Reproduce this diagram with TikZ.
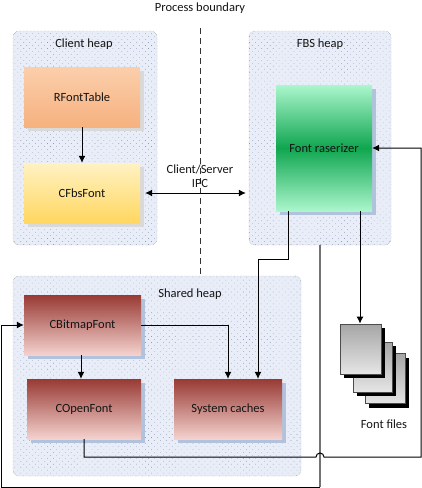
\documentclass[tikz,border=0pt]{standalone}
\usepackage{fontspec}
\setmainfont{Carlito}
\usetikzlibrary{arrows.meta,patterns.meta,shadows}
\definecolor{heapfill}{HTML}{E8EDF8}
\definecolor{heapdot}{HTML}{8E9CB8}
\definecolor{shadowblue}{HTML}{B2C2DC}
\definecolor{redtop}{HTML}{983A34}
\definecolor{redlow}{HTML}{F4D2CE}
\definecolor{orangetop}{HTML}{FBCFAB}
\definecolor{orangelow}{HTML}{F6B17F}
\definecolor{yellowtop}{HTML}{FFF1C2}
\definecolor{yellowlow}{HTML}{FFD760}
\definecolor{greenout}{HTML}{ABF6CD}
\definecolor{greenmid}{HTML}{10A650}
\tikzset{
	labeltext/.style={font=\fontsize{12.5pt}{14pt}\selectfont,text=black!92},
	heapbox/.style={rounded corners=6pt,draw=gray,densely dotted,fill=heapfill,
		postaction={pattern={Dots[radius=0.42pt,distance=4.2pt,angle=45]},pattern color=heapdot}},
	classbox/.style={labeltext,inner sep=0pt},
	greyshadow/.style={drop shadow={shadow xshift=4pt,shadow yshift=-4pt,fill=black!15,opacity=1}},
	blueshadow/.style={drop shadow={shadow xshift=4pt,shadow yshift=-4pt,fill=shadowblue,opacity=1}},
	redbox/.style={classbox,blueshadow,top color=redtop,bottom color=redlow},
	pagebox/.style={draw=black!70,line width=0.8pt,top color=black!35,bottom color=black!10,
		drop shadow={shadow xshift=4pt,shadow yshift=-4pt,fill=black,opacity=1}},
	link/.style={line width=1pt,-{Latex[length=7pt,width=7pt]}},
	twolink/.style={line width=1pt,{Latex[length=7pt,width=7pt]}-{Latex[length=7pt,width=7pt]}},
}
\begin{document}
\begin{tikzpicture}[x=1pt,y=-1pt]
	\useasboundingbox (0,0) rectangle (422,488);

	% Heaps
	\node[heapbox,minimum width=144pt,minimum height=214pt] (clientheap) at (85,138) {};
	\node[heapbox,minimum width=142pt,minimum height=214pt] (fbsheap) at (320,138) {};
	\node[heapbox,minimum width=288pt,minimum height=200pt] (sharedheap) at (157,376) {};
	\node[labeltext] (clientlabel) at (84,44) {Client heap};
	\node[labeltext] (fbslabel) at (320,44) {FBS heap};
	\node[labeltext] (sharedlabel) at (190,294) {Shared heap};

	% Process boundary
	\node[labeltext] (boundary) at (200,8) {Process boundary};
	\coordinate (boundarytop) at (200,28);
	\coordinate (boundaryend) at (200,276);
	\draw[black!80,dash pattern=on 6pt off 4pt] (boundarytop) -- (boundaryend);

	% Classes
	\node[classbox,greyshadow,top color=orangetop,bottom color=orangelow,minimum width=116pt,minimum height=60pt]
		(rfonttable) at (82,97) {RFontTable};
	\node[classbox,greyshadow,top color=yellowtop,bottom color=yellowlow,minimum width=116pt,minimum height=60pt]
		(cfbsfont) at (82,193) {CFbsFont};
	\node[classbox,blueshadow,minimum width=96pt,minimum height=126pt,
		top color=greenout,bottom color=greenout,middle color=greenmid]
		(raserizer) at (324,148) {Font raserizer};
	\node[redbox,minimum width=117pt,minimum height=60pt] (cbitmapfont) at (82.5,325) {CBitmapFont};
	\node[redbox,minimum width=114pt,minimum height=60pt] (copenfont) at (84,409) {COpenFont};
	\node[redbox,minimum width=108pt,minimum height=60pt] (syscaches) at (228,409) {System caches};

	% Font files
	\foreach \x/\y/\w/\name in {385/378.5/40/filec,372.5/367/39/fileb,360.5/349/41/filea}
		\node[pagebox,minimum width=\w pt,minimum height=50pt,inner sep=0pt] (\name) at (\x,\y) {};
	\node[labeltext] (filelabel) at (384,424) {Font files};

	% Connectors
	\node[labeltext,align=center,inner sep=0pt] (ipc) at (200,176.5) {Client/Server\\IPC};
	\draw[link] (rfonttable) -- (cfbsfont);
	\draw[link] (cbitmapfont.south -| 81,0) -- (copenfont.north -| 81,0);
	\draw[twolink,shorten <=5pt,shorten >=3pt] (cfbsfont.east) -- (cfbsfont.east -| fbsheap.west);

	\coordinate (rasleft) at (288,211);
	\coordinate (rasright) at (360,211);
	\draw[link] (rasleft) -- (288,259) -- (258,259) -- (syscaches.north -| 258,0);
	\draw[link] (rasright) -- (filea.north -| 360,0);
	\draw[link] (cbitmapfont.east) -| (syscaches.north);

	% Line from the heap down and round to CBitmapFont
	\coordinate (fbsout) at (320,245);
	\coordinate (belowall) at (320,487);
	\draw[black!55,line width=1.2pt] (fbsout) -- (belowall);
	\draw[link] (belowall) -- (1,487) -- (1,325) -- (cbitmapfont.west);

	% Line from COpenFont round to the rasterizer
	\draw[link] (copenfont.south) |- (316,457) arc[start angle=180,end angle=0,radius=4pt]
		-- (421,457) -- (421,148) -- (raserizer.east);
\end{tikzpicture}
\end{document}
